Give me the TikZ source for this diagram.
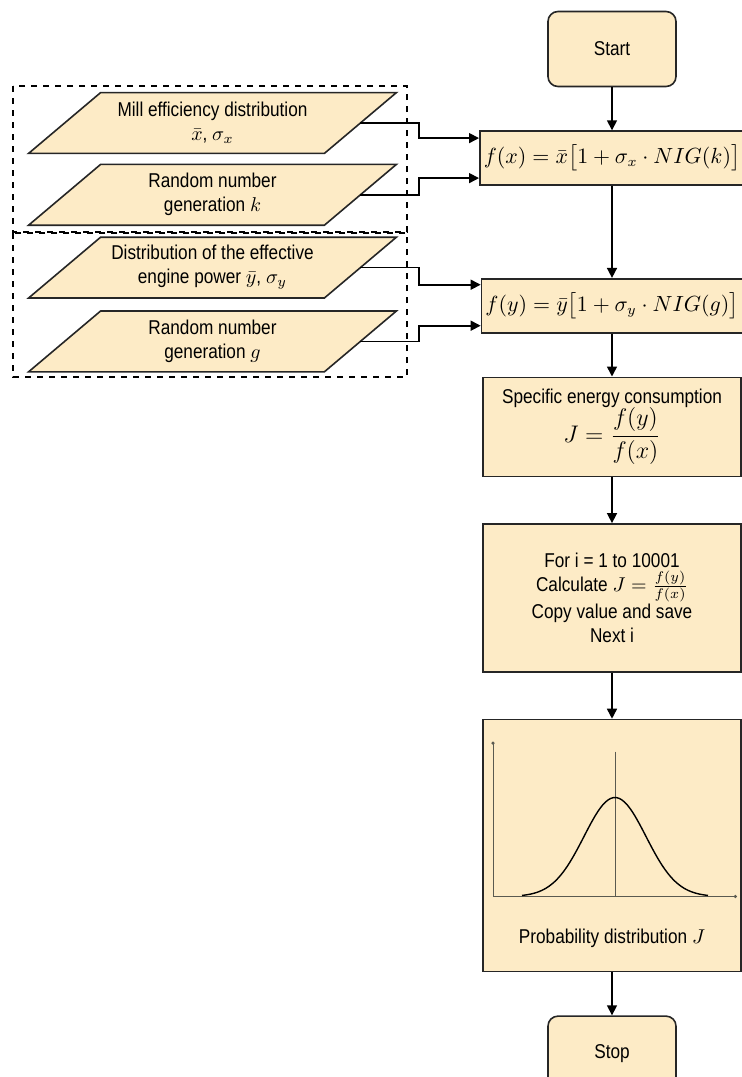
\documentclass[tikz,border=0pt]{standalone}
\usepackage{amsmath}
\usepackage{fontspec}
\setmainfont{Liberation Sans}[FakeStretch=0.86]
\usetikzlibrary{arrows.meta, positioning, calc, backgrounds}
\definecolor{boxtan}{HTML}{FDEBC6}
\definecolor{axisgray}{HTML}{5A5A50}
\tikzset{
    box/.style={rectangle, draw=black!85, fill=boxtan, line width=0.8pt, align=center, font=\normalsize, minimum width=129pt, inner sep=2pt},
    termbox/.style={box, rounded corners=5pt, minimum width=64pt, minimum height=37.5pt},
    inbox/.style={rectangle, align=center, minimum width=147.5pt, minimum height=30pt, inner sep=0pt},
    parabox/.style={draw=black!85, fill=boxtan, line width=0.8pt},
    arrow/.style={-{Triangle[length=5pt, width=5pt]}, line width=0.8pt, draw=black},
    groupline/.style={dashed, line width=0.6pt, draw=black}
}
\begin{document}
\begin{tikzpicture}[node distance=21.5pt]
    \useasboundingbox (0,0) rectangle (371pt,-538.5pt);
    % flowchart column
    \node[termbox] (start) at (306pt,-24.5pt) {Start};
    \node[box, below=of start, minimum height=27pt] (fx) {\fontsize{10.5}{13}\selectfont $f(x) = \bar{x}\big[1 + \sigma_x \cdot NIG(k)\big]$};
    \node[box, below=46pt of fx, minimum height=27pt] (fy) {\fontsize{10.5}{13}\selectfont $f(y) = \bar{y}\big[1 + \sigma_y \cdot NIG(g)\big]$};
    \node[box, below=of fy, minimum height=49.5pt] (spec) {Specific energy consumption\\[-1pt] \fontsize{12}{14}\selectfont $J = \dfrac{f(y)}{f(x)}$};
    \node[box, below=23pt of spec, minimum height=74pt] (loop) {For i = 1 to 10001\\ Calculate $J = \frac{f(y)}{f(x)}$\\ Copy value and save\\ Next i};
    \node[box, below=23pt of loop, minimum height=126pt] (prob) {};
    \node[termbox, below=of prob] (stop) {Stop};
    % input parallelograms
    \node[inbox] (mill) at (106.25pt,-61.5pt) {Mill efficiency distribution\\ $\bar{x}$, $\sigma_x$};
    \node[inbox, below=5.5pt of mill] (randk) {Random number\\ generation $k$};
    \node[inbox, below=6pt of randk] (dist) {Distribution of the effective\\ engine power $\bar{y}$, $\sigma_y$};
    \node[inbox, below=6.5pt of dist] (randg) {Random number\\ generation $g$};
    \begin{scope}[on background layer]
        \foreach \n in {mill, randk, dist, randg}
            \draw[parabox] ([xshift=-18pt]\n.south west) -- ([xshift=-18pt]\n.south east)
                -- ([xshift=18pt]\n.north east) -- ([xshift=18pt]\n.north west) -- cycle;
    \end{scope}
    \draw[groupline] (6.5pt,-43pt) rectangle (203.5pt,-116pt);
    \draw[groupline] (6.5pt,-116.5pt) rectangle (203.5pt,-188.5pt);
    \coordinate (bend) at (209.5pt,0);
    % connectors
    \draw[arrow] (start) -- (fx);
    \draw[arrow] (fx) -- (fy);
    \draw[arrow] (fy) -- (spec);
    \draw[arrow] (spec) -- (loop);
    \draw[arrow] (loop) -- (prob);
    \draw[arrow] (prob) -- (stop);
    \draw[arrow] (mill.east) -- (mill.east -| bend) |- ($(fx.west)+(0,10pt)$);
    \draw[arrow] (randk.east) -- (randk.east -| bend) |- ($(fx.west)+(0,-10pt)$);
    \draw[arrow] (dist.east) -- (dist.east -| bend) |- ($(fy.west)+(0,10.5pt)$);
    \draw[arrow] (randg.east) -- (randg.east -| bend) |- ($(fy.west)+(0,-10pt)$);
    % bell curve inside the probability box
    \begin{scope}[shift={(prob.center)}, x=1pt, y=1pt]
        \draw[axisgray, line width=0.5pt, {Circle[length=1.6pt]}-{Circle[length=1.6pt]}] (-59.5,52) -- (-59.5,-25.5) -- (62.5,-25.5);
        \draw[axisgray, line width=0.5pt] (1.5,47) -- (1.5,-25.5);
        \draw[line width=0.7pt, domain=-46.5:46.5, samples=70, smooth] plot ({\x+1.5}, {-25.5+49.5*exp(-((\x/15.5)^2)/2)});
        \node (problabel) at (0,-46.5) {Probability distribution $J$};
    \end{scope}
\end{tikzpicture}
\end{document}
